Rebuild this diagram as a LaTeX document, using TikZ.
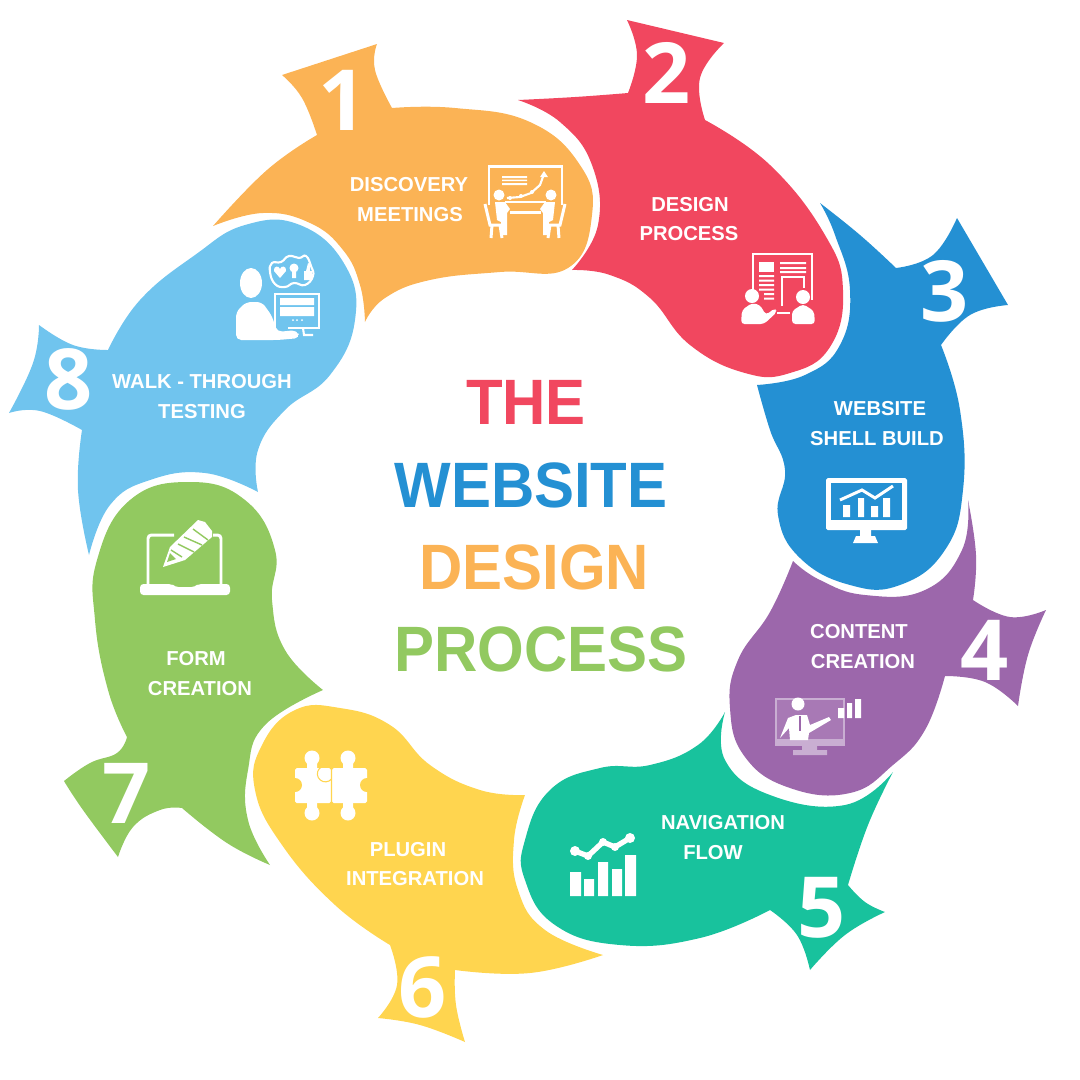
\documentclass[tikz,border=0pt]{standalone}
\usepackage{fontspec}
\usepackage{xcolor}
\usepackage{tikz}
\usetikzlibrary{positioning}
\newfontfamily\labelfont{Liberation Sans}
\newfontfamily\titlefont[FakeStretch=0.935]{Liberation Sans}
\newfontfamily\digitfont{Open Sans}
\definecolor{petalorange}{HTML}{FBB355}
\definecolor{petalred}{HTML}{F1475F}
\definecolor{petalblue}{HTML}{2490D3}
\definecolor{petalpurple}{HTML}{9C67AB}
\definecolor{petalteal}{HTML}{18C29D}
\definecolor{petalyellow}{HTML}{FFD54F}
\definecolor{petalgreen}{HTML}{92C960}
\definecolor{petalsky}{HTML}{70C4EE}
\definecolor{palepurple}{HTML}{C9AED2}
\begin{document}
\begin{tikzpicture}[x=0.02cm,y=-0.02cm,
  steplabel/.style={text=white, font=\labelfont\bfseries\fontsize{11.5}{14}\selectfont, inner sep=0pt},
  stepdigit/.style={text=white, font=\digitfont\bfseries\fontsize{48}{50}\selectfont, inner sep=0pt},
  headline/.style={font=\titlefont\bfseries\fontsize{36.5}{38}\selectfont, inner sep=0pt},
  curve/.style={smooth, tension=0.75},
  thin icon/.style={draw=white, line width=1.2pt},
  thick icon/.style={draw=white, line width=1.7pt}
]
\useasboundingbox (0,0) rectangle (1080,1080);

% Petal 1
\fill[petalorange] plot[curve] coordinates {(213,226) (267,170) (317,135)}
  -- plot[curve] coordinates {(317,135) (302,98) (282,75)}
  -- (377,44)
  -- plot[curve] coordinates {(377,44) (375,70) (392,108)}
  -- plot[curve] coordinates {(392,108) (455,108) (530,122) (580,165) (592,215) (568,268) (500,272) (430,280) (385,298) (365,322)}
  -- plot[curve] coordinates {(365,322) (360,285) (343,250) (310,223) (263,213) (213,226)};
% Petal 2
\fill[petalred] plot[curve] coordinates {(518,100) (575,97) (628,93)}
  -- plot[curve] coordinates {(628,93) (637,55) (627,20)}
  -- (724,43)
  -- plot[curve] coordinates {(724,43) (700,78) (705,120)}
  -- plot[curve] coordinates {(705,120) (770,165) (825,235) (843,290) (830,347) (790,373) (745,373) (690,345) (650,298) (610,275) (572,270)}
  -- plot[curve] coordinates {(572,270) (598,225) (592,165) (560,122) (518,100)};
% Petal 3
\fill[petalblue] plot[curve] coordinates {(820,203) (860,235) (896,268)}
  -- plot[curve] coordinates {(896,268) (933,255) (957,218)}
  -- (1008,305)
  -- plot[curve] coordinates {(1008,305) (970,315) (941,345)}
  -- plot[curve] coordinates {(941,345) (960,410) (963,490) (945,550) (900,585) (850,585) (800,558) (778,515) (785,470) (770,430) (757,385)}
  -- plot[curve] coordinates {(757,385) (805,375) (840,345) (850,290) (835,235) (820,203)};
% Petal 4
\fill[petalpurple] plot[curve] coordinates {(968,500) (976,555) (973,600)}
  -- plot[curve] coordinates {(973,600) (1010,617) (1046,610)}
  -- plot[curve] coordinates {(1046,610) (1028,655) (1018,706)}
  -- plot[curve] coordinates {(1018,706) (985,682) (945,676)}
  -- plot[curve] coordinates {(945,676) (925,730) (893,765) (850,793) (790,788) (745,757) (730,708) (738,660) (770,612) (793,561)}
  -- plot[curve] coordinates {(793,561) (820,580) (865,595) (925,590) (962,550) (968,500)};
% Petal 5
\fill[petalteal] plot[curve] coordinates {(893,772) (868,825) (848,885)}
  -- plot[curve] coordinates {(848,885) (865,902) (885,912)}
  -- plot[curve] coordinates {(885,912) (845,935) (810,970)}
  -- plot[curve] coordinates {(810,970) (797,935) (770,910)}
  -- plot[curve] coordinates {(770,910) (700,938) (620,945) (555,925) (525,880) (525,840) (550,790) (600,768) (650,765) (698,745) (725,712)}
  -- plot[curve] coordinates {(725,712) (725,760) (770,795) (845,805) (893,772)};
% Petal 6
\fill[petalyellow] plot[curve] coordinates {(525,795) (514,840) (518,890) (545,930) (603,955)}
  -- plot[curve] coordinates {(603,955) (530,973) (455,970)}
  -- plot[curve] coordinates {(455,970) (456,1005) (465,1042)}
  -- plot[curve] coordinates {(465,1042) (420,1025) (378,1018)}
  -- plot[curve] coordinates {(378,1018) (397,985) (390,945)}
  -- plot[curve] coordinates {(390,945) (335,905) (282,845) (255,790) (262,745) (295,710) (340,708) (390,725) (430,765) (480,790) (525,795)};
% Petal 7
\fill[petalgreen] plot[curve] coordinates {(323,690) (285,650) (272,600) (275,550) (245,500) (190,482) (130,500) (97,560) (95,620) (108,690) (127,737)}
  -- plot[curve] coordinates {(127,737) (117,753) (90,763) (64,781)}
  -- plot[curve] coordinates {(64,781) (83,810) (118,857)}
  -- plot[curve] coordinates {(118,857) (133,827) (160,810) (182,808)}
  -- plot[curve] coordinates {(182,808) (227,843) (270,865)}
  -- plot[curve] coordinates {(270,865) (248,820) (248,770) (265,725) (323,690)};
% Petal 8
\fill[petalsky] plot[curve] coordinates {(89,555) (110,505) (150,480) (205,473) (258,492)}
  -- plot[curve] coordinates {(258,492) (258,450) (285,410) (330,375) (355,320) (345,265) (300,225) (245,225) (195,255) (140,300) (108,350)}
  -- plot[curve] coordinates {(108,350) (73,345) (39,325)}
  -- plot[curve] coordinates {(39,325) (33,363) (9,413)}
  -- plot[curve] coordinates {(9,413) (40,411) (82,430)}
  -- plot[curve] coordinates {(82,430) (78,490) (89,555)};

% Numbers
\node[stepdigit] (d1) at (343,100) {1};
\node[stepdigit] (d2) at (667,73) {2};
\node[stepdigit] (d3) at (945,291) {3};
\node[stepdigit] (d4) at (985,650) {4};
\node[stepdigit] (d5) at (822,908) {5};
\node[stepdigit] (d6) at (423,987) {6};
\node[stepdigit] (d7) at (127,793) {7};
\node[stepdigit] (d8) at (69,379) {8};

% Labels
\node[steplabel] (l1a) at (409,185) {DISCOVERY};
\node[steplabel] (l1b) at (410,215) {MEETINGS};
\node[steplabel] (l2a) at (690,205) {DESIGN};
\node[steplabel] (l2b) at (689,234) {PROCESS};
\node[steplabel] (l3a) at (880,409) {WEBSITE};
\node[steplabel] (l3b) at (877,439) {SHELL BUILD};
\node[steplabel] (l4a) at (859,632) {CONTENT};
\node[steplabel] (l4b) at (863,662) {CREATION};
\node[steplabel] (l5a) at (723,823) {NAVIGATION};
\node[steplabel] (l5b) at (713,853) {FLOW};
\node[steplabel] (l6a) at (408,850) {PLUGIN};
\node[steplabel] (l6b) at (415,879) {INTEGRATION};
\node[steplabel] (l7a) at (196,659) {FORM};
\node[steplabel] (l7b) at (200,689) {CREATION};
\node[steplabel] (l8a) at (202,382) {WALK - THROUGH};
\node[steplabel] (l8b) at (202,412) {TESTING};

% Title
\node[headline,text=petalred] (t1) at (526,402) {THE};
\node[headline,text=petalblue] (t2) at (531,485) {WEBSITE};
\node[headline,text=petalorange] (t3) at (534,567) {DESIGN};
\node[headline,text=petalgreen] (t4) at (541,649) {PROCESS};

% Icon 1: meeting
\draw[thick icon] (489,205) -- (489,166) -- (562,166) -- (562,205);
\fill[white] (502,176) rectangle (527,178) (502,179.500) rectangle (527,181) (502,183) rectangle (527,185);
\draw[thin icon] (507,198) -- (520,197) -- (531,193) -- (540,185) -- (544,174);
\fill[white] (544,171) -- (540,177) -- (548,177) -- cycle;
\fill[white] (510,198) circle (2) (521,196) circle (2) (532,192) circle (2);
\draw[thin icon] (505,202) -- (546,202);
\draw[thick icon] (510,212) -- (541,212);
\fill[white] (499,195) circle (5.500) (551,195) circle (5.500);
% left person and chair
\fill[white] (495,202) -- (505,202) -- (510,209) -- (507,213) -- (507,235) -- (502,235) -- (501,222) -- (497,220) -- cycle;
\draw[thick icon] (485,204) -- (490,225) -- (503,225) (491,238) -- (492,225) (500,225) -- (502,238);
% right person and chair
\fill[white] (555,202) -- (545,202) -- (540,209) -- (543,213) -- (543,235) -- (548,235) -- (549,222) -- (553,220) -- cycle;
\draw[thick icon] (565,204) -- (560,225) -- (547,225) (559,238) -- (558,225) (550,225) -- (548,238);

% Icon 2: design board
\draw[thin icon] (753,290) -- (753,254) -- (812,254) -- (812,300);
\fill[white] (759,262) rectangle (774,272);
\fill[white] (759,275) rectangle (774,277) (759,279.500) rectangle (774,281.500) (759,284) rectangle (774,286) (759,288.500) rectangle (774,290.500) (764,293) rectangle (774,295) (764,297.500) rectangle (774,299.500);
\fill[white] (780,262) rectangle (806,264) (780,267) rectangle (806,269) (780,271) rectangle (806,273);
\draw[thin icon] (782,306) -- (782,277) -- (804,277) -- (804,288);
\fill[white] (752,296) circle (7) (803,297) circle (7);
\fill[white,rounded corners=2pt] (741,324) -- (742,310) -- (752,303) -- (760,305) -- (766,315) -- (775,308) -- (777,312) -- (764,324) -- cycle;
\fill[white,rounded corners=2pt] (792,324) -- (792,311) -- (803,304) -- (814,311) -- (815,324) -- cycle;
\draw[thin icon] (777,313) -- (790,313);

% Icon 3: monitor
\fill[white,rounded corners=1pt] (826,478) rectangle (907,530);
\fill[petalblue] (831,483) rectangle (902,520);
\fill[white] (860,530) rectangle (871,536) (856,536) -- (875,536) -- (878,543) -- (853,543) -- cycle;
\fill[white] (843,505) rectangle (850,517) (858,498) rectangle (864,517) (871,506) rectangle (878,517) (883,498) rectangle (890,517);
\draw[thick icon] (840,500) -- (862,490) -- (875,498) -- (893,486);

% Icon 4: presenter
\draw[palepurple,fill=petalpurple!88!white,line width=1.6pt] (776,699) rectangle (844,743);
\fill[palepurple] (775,739) rectangle (845,746);
\fill[palepurple] (802,746) rectangle (817,750) (793,750) rectangle (827,755);
\fill[white] (798,704) circle (6.500);
\fill[white] (780,738) -- (788,718) -- (796,715) -- (807,715) -- (810,725) -- (829,717) -- (831,720) -- (809,733) -- (808,740) -- (790,740) -- (789,728) -- cycle;
\draw[petalpurple,line width=1pt] (800,716) -- (800,731);
\fill[white] (838,708) rectangle (844,718) (847,703) rectangle (852,718) (855,699) rectangle (861,718);

% Icon 5: bars
\fill[white] (570,872) rectangle (581,896) (584,879) rectangle (594,896) (598,862) rectangle (608,896) (612,869) rectangle (622,896) (625,855) rectangle (636,896);
\draw[white,line width=3pt] (575,851) -- (588,856) -- (603,842) -- (615,847) -- (630,838);
\fill[white] (575,851) circle (5) (588,856) circle (4) (603,842) circle (4) (615,847) circle (4) (630,838) circle (5);

% Icon 6: puzzle
\fill[white,rounded corners=1pt] (295,768) rectangle (331,803) (332,768) rectangle (367,803);
\fill[white] (312,758) circle (7.500) (348,758) circle (7.500) (312,813) circle (7.500) (348,813) circle (7.500);
\fill[white] (307,760) rectangle (317,770) (343,760) rectangle (353,770) (307,802) rectangle (317,812) (343,802) rectangle (353,812);
\fill[petalyellow] (295,785) circle (7) (367,785) circle (7);
\draw[petalyellow,line width=0.6pt] (331.500,768) -- (331.500,779) arc (40:320:8) -- (331.500,803);

% Icon 7: laptop with pencil
\draw[thick icon,rounded corners=2pt] (148,584) -- (148,535) -- (174,535);
\draw[thick icon,rounded corners=2pt] (213,535) -- (221,535) -- (221,584);
\fill[white,rounded corners=2pt] (140,584) -- (172,584) -- (175,587) -- (195,587) -- (198,584) -- (230,584) -- (230,595) -- (140,595) -- cycle;
\fill[white] (163,567) -- (170,547) -- (198,520) -- (205,522) -- (212,531) -- (212,537) -- (185,560) -- cycle;
\draw[petalgreen,line width=0.8pt] (171,550) -- (182,557) (178,544) -- (194,552) (184,537) -- (202,545) (193,529) -- (208,540);
\fill[petalgreen] (167,562) -- (170,553) -- (176,559) -- cycle;

% Icon 8: user feedback
\fill[white] (251,283) ellipse [x radius=11,y radius=15];
\fill[white,rounded corners=3pt] (236,340) -- (236,312) -- (246,302) -- (262,302) -- (272,316) -- (277,332) -- (297,330) -- (300,338) -- (278,340) -- cycle;
\draw[thin icon] (275,336) -- (275,294) -- (319,294) -- (319,328) -- (288,328);
\fill[white] (280,298) rectangle (314,305) (280,307) rectangle (314,316);
\fill[white] (293,320) circle (1) (297,320) circle (1) (302,320) circle (1);
\draw[thin icon] (303,328) -- (304,335) -- (313,335);
\draw[thin icon] plot[smooth cycle, tension=0.8] coordinates {(270,272) (272,263) (281,262) (289,256) (299,258) (306,256) (311,266) (313,276) (305,285) (294,283) (285,287) (275,284)};
\fill[white] (280,278) -- (274,271) .. controls (273,266) and (279,265) .. (280,269) .. controls (281,265) and (287,266) .. (286,271) -- cycle;
\fill[white] (294,268) circle (4.500) (292,272) rectangle (296,278);
\fill[white] (304,271) rectangle (312,280) (306,271) -- (308,263) -- (310,264) -- (310,271) -- cycle;
\end{tikzpicture}
\end{document}
